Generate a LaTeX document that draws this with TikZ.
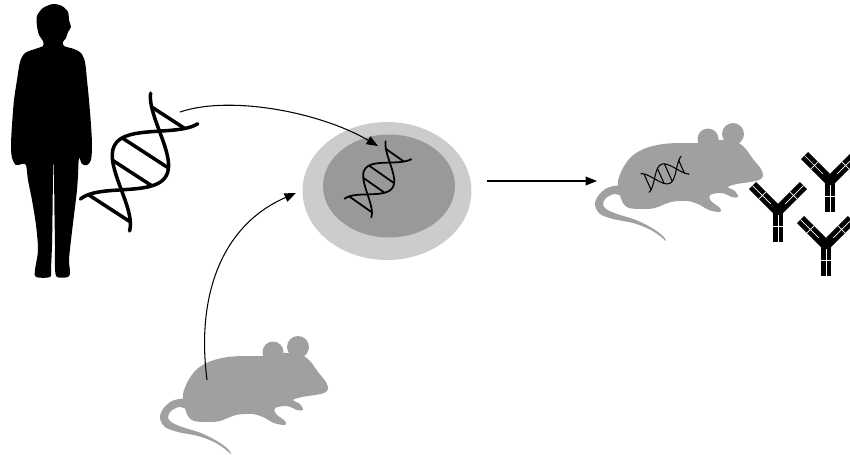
\documentclass[tikz,border=0pt]{standalone}
\usetikzlibrary{arrows.meta, shapes.geometric}

\definecolor{membrane}{HTML}{CCCCCC}
\definecolor{nucleus}{HTML}{999999}
\definecolor{mousegray}{HTML}{A0A0A0}

\tikzset{
  % double helix, drawn along the local x axis (length 127, amplitude 30)
  pics/helix/.style={code={
    \draw[line cap=round] plot[domain=0:127, samples=60, smooth] (\x, {30*sin((\x-30)/70*180)});
    \draw[line cap=round] plot[domain=0:127, samples=60, smooth] (\x, {-30*sin((\x-30)/70*180)});
    \foreach \t in {8,50,74,116}
      \draw (\t, {30*sin((\t-30)/70*180)}) -- (\t, {-30*sin((\t-30)/70*180)});
  }},
  % mouse facing right, origin in the middle of the body
  pics/mouse/.style={code={
    \fill[mousegray] plot[smooth cycle, tension=0.55] coordinates {
      (78,-1) (76,-8) (68,-18) (60,-29) (50,-36) (37,-37) (24,-37) (12,-34)
      (-5,-34) (-22,-33) (-39,-29) (-53,-21) (-62,-9) (-67,4) (-66,15)
      (-62,26) (-56,31) (-42,32) (-30,31) (-14,25) (2,24) (13,27) (24,33)
      (35,35) (35,31) (26,24) (25,18) (37,16) (47,20) (53,20) (50,14)
      (43,10) (52,7) (65,5) (74,3)};
    \fill[mousegray] plot[smooth cycle, tension=0.55] coordinates {
      (-66,9) (-78,11) (-87,19) (-90,28) (-85,37) (-72,42) (-52,46)
      (-36,52) (-25,59) (-19,64) (-22,59) (-33,51) (-49,43) (-68,37)
      (-79,32) (-82,27) (-79,21) (-71,17) (-64,18)};
    \fill[mousegray] (48,-43) circle[radius=11];
    \fill[mousegray] (23,-38) circle[radius=10.5];
  }},
  % Y shaped antibody, origin where the arms meet
  pics/antibody/.style={code={
    \fill (-5,-2) rectangle (5,31);
    \foreach \a in {45,135} {
      \begin{scope}[rotate=\a]
        \fill (0,-5) rectangle (36,5);
        \draw[white, line width=0.4pt] (10,0) -- (36,0) (22,-5) -- (22,5);
      \end{scope}
    }
    \draw[white, line width=0.4pt] (0,4) -- (0,31) (-5,15) -- (5,15);
  }}
}

\begin{document}
\begin{tikzpicture}[x=0.02cm, y=-0.02cm,
    arrow/.style={-{Triangle[length=6.5pt, width=5pt]}, line width=0.6pt}]
\useasboundingbox (0,0) rectangle (850,454);

% person
\fill plot[smooth cycle, tension=0.5] coordinates {
  (53,4) (62,6) (68,12) (69,20) (71,27) (68,32) (66,38) (63,42) (64,46)
  (74,49) (81,53) (85,62) (87,80) (89,100) (91,125) (92,145) (91,160)
  (87,165) (82,164) (79,158) (78,175) (77,190) (74,215) (71,240) (69,260)
  (70,272) (68,277) (57,277) (55,268) (55,245) (54.5,215) (54,175)
  (53.5,160) (53,175) (52.5,215) (52,245) (51,268) (50,277) (36,277)
  (35,270) (38,250) (36,225) (32,200) (28,180) (26,165) (22,164) (16,165)
  (12,158) (11,145) (12,125) (14,100) (17,80) (20,62) (25,53) (35,49)
  (43,46) (43,41) (39,35) (37,26) (37,16) (43,8)};
\pic[rotate=57, line width=2pt] at (105,215) {helix};
\coordinate (dna) at (180,112);

% cell and nucleus with the inserted gene
\node[ellipse, fill=membrane, minimum width=3.38cm, minimum height=2.76cm] (cell) at (387,191) {};
\node[ellipse, fill=nucleus, minimum width=2.64cm, minimum height=2.06cm] (nucleus) at (389,186) {};
\pic[rotate=55, scale=0.555, line width=1pt] at (358,208) {helix};
\coordinate (insert) at (378,146);
\coordinate (cell-in) at (296,193);
\coordinate (cell-out) at (487,181);

% donor mouse
\pic at (250,390) {mouse};
\coordinate (donor) at (207,380);

% transgenic mouse
\pic at (685,177) {mouse};
\pic[rotate=24, scale=0.345, line width=0.6pt] at (645,183) {helix};
\coordinate (tg) at (597,181);

% antibodies
\pic at (778,211) {antibody};
\pic at (830,181) {antibody};
\pic at (826,245) {antibody};

% arrows
\draw[arrow] (dna) .. controls (230,95) and (320,112) .. (insert);
\draw[arrow] (donor) .. controls (196,295) and (222,225) .. (cell-in);
\draw[arrow] (cell-out) -- (tg);
\end{tikzpicture}
\end{document}
